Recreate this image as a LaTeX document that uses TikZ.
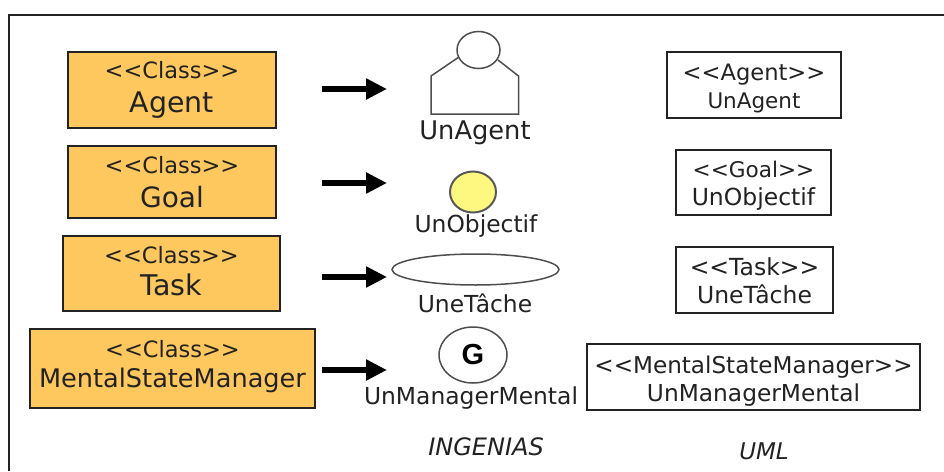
\documentclass[tikz,border=0pt]{standalone}
\usepackage{fontspec}
\setmainfont{DejaVu Sans}
\newfontfamily\gfont{Liberation Sans}
\usetikzlibrary{arrows.meta,shapes.geometric}
\definecolor{cls}{HTML}{FFC85F}
\definecolor{ink}{HTML}{222222}
% #1 first line, #2 second line, #3 first size, #4 second size, #5 first-line strut height, #6 last-line strut depth
\newcommand{\twolines}[6]{{\fontsize{#3}{#3}\selectfont\rule{0pt}{#5}#1}\\{\fontsize{#4}{#4}\selectfont\rule[-#6]{0pt}{#6}#2}}
\tikzset{
 x=1pt,y=-1pt,
 lsp/.style={font=\fontsize{22}{#1}\selectfont},
 classbox/.style={draw=ink,line width=1.6pt,fill=cls,inner sep=0pt,anchor=north west,align=center,text=ink},
 umlbox/.style={draw=ink,line width=1.6pt,fill=white,inner sep=0pt,anchor=north west,align=center,text=ink,lsp=28},
 lbl/.style={font=\fontsize{23.4}{26}\selectfont,text=ink,inner sep=0pt},
 captxt/.style={font=\fontsize{24}{28}\selectfont\itshape,text=ink,inner sep=0pt},
 bigarrow/.style={line width=6.5pt,-{Triangle[length=21pt,width=20pt]},black},
 glyph/.style={draw=ink!80,line width=1.5pt},
}
\begin{document}
\begin{tikzpicture}
\useasboundingbox (0,0) rectangle (944,471);
\draw[ink,line width=1.5pt] (9,471) -- (9,15) -- (944,15);
% class boxes
\node[classbox,lsp=34,minimum width=208pt,minimum height=76pt] (c1) at (67.2,51.2) {\twolines{<{}<Class>{}>}{Agent}{22.5}{28.4}{0pt}{6pt}};
\node[classbox,lsp=34,minimum width=208pt,minimum height=72pt] (c2) at (67.2,145.2) {\twolines{<{}<Class>{}>}{Goal}{22.5}{28}{0pt}{0pt}};
\node[classbox,lsp=32,minimum width=217pt,minimum height=75pt] (c3) at (62.2,235.2) {\twolines{<{}<Class>{}>}{Task}{22.5}{28.5}{0pt}{6pt}};
\node[classbox,lsp=30,minimum width=285pt,minimum height=79pt] (c4) at (29.2,328.2) {\twolines{<{}<Class>{}>}{MentalStateManager}{22.5}{25.6}{0pt}{9pt}};
% arrow ends
\coordinate (a1s) at (322,89); \coordinate (a1e) at (387,89);
\coordinate (a2s) at (322,183); \coordinate (a2e) at (387,183);
\coordinate (a3s) at (322,277); \coordinate (a3e) at (387,277);
\coordinate (a4s) at (322,370); \coordinate (a4e) at (387,370);
\draw[bigarrow] (a1s) -- (a1e);
\draw[bigarrow] (a2s) -- (a2e);
\draw[bigarrow] (a3s) -- (a3e);
\draw[bigarrow] (a4s) -- (a4e);
% agent glyph
\draw[glyph] (459,57) -- (431,76) -- (431,114) -- (518.5,114) -- (518.5,76) -- (498,60);
\node[glyph,draw,ellipse,fill=white,minimum width=43pt,minimum height=37pt,inner sep=0pt] (g1) at (478.5,50) {};
\node[lbl,font=\fontsize{25.7}{28}\selectfont] (l1) at (475,133) {UnAgent};
% goal
\node[draw=ink!75,line width=2pt,ellipse,fill=yellow!50!white,minimum width=46pt,minimum height=41pt,inner sep=0pt] (g2) at (473,192) {};
\node[lbl] (l2) at (476,226) {UnObjectif};
% task
\node[glyph,draw,ellipse,minimum width=167pt,minimum height=31pt,inner sep=0pt] (g3) at (475.5,269.5) {};
\node[lbl] (l3) at (475,303.5) {UneTâche};
% manager
\node[glyph,draw,ellipse,minimum width=68pt,minimum height=56pt,inner sep=0pt,font=\fontsize{29}{30}\selectfont\gfont\bfseries] (g4) at (473,355) {G};
\node[lbl] (l4) at (471,398) {UnManagerMental};
% uml
\node[umlbox,minimum width=174pt,minimum height=66pt] (u1) at (666.2,51.2) {\twolines{<{}<Agent>{}>}{UnAgent}{22.6}{21.5}{23pt}{0pt}};
\node[umlbox,minimum width=155pt,minimum height=65pt] (u2) at (675.2,149.2) {\twolines{<{}<Goal>{}>}{UnObjectif}{21.6}{23.5}{22pt}{0pt}};
\node[umlbox,minimum width=157pt,minimum height=66pt] (u3) at (675.2,246.2) {\twolines{<{}<Task>{}>}{UneTâche}{23.5}{23.5}{20pt}{0pt}};
\node[umlbox,minimum width=333pt,minimum height=66pt] (u4) at (586.2,343.2) {\twolines{<{}<MentalStateManager>{}>}{UnManagerMental}{23.1}{23.3}{26pt}{0pt}};
\node[captxt] (n1) at (486,447) {INGENIAS};
\node[captxt,font=\fontsize{23}{28}\selectfont\itshape] (n2) at (764,451) {UML};
\end{tikzpicture}
\end{document}
